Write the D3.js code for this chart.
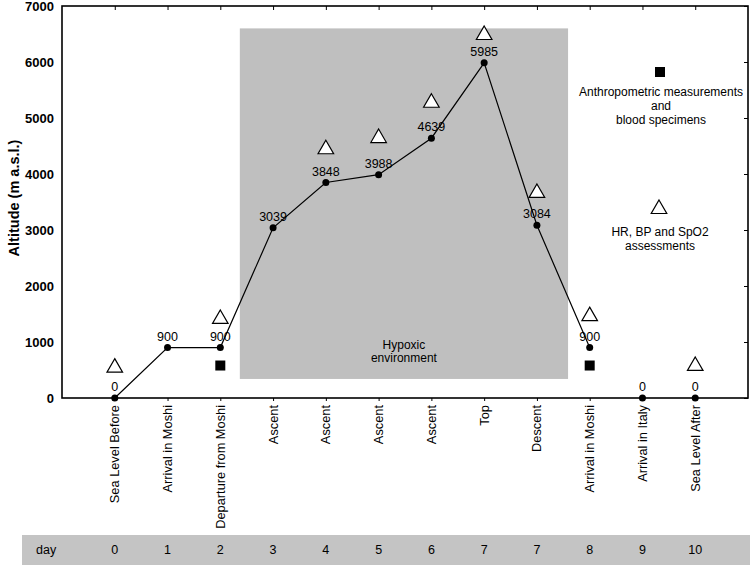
<!DOCTYPE html>
<html><head><meta charset="utf-8">
<script src="https://cdn.jsdelivr.net/npm/d3@7"></script>
<style>body{margin:0;background:#fff}svg{display:block}text{font-family:"Liberation Sans",Arial,sans-serif}</style>
</head><body><svg id="c" width="750" height="565"></svg>
<script>
const categories = ["Sea Level Before","Arrival in Moshi","Departure from Moshi","Ascent","Ascent","Ascent","Ascent","Top","Descent","Arrival in Moshi","Arrival in Italy","Sea Level After"];
const days = ["0","1","2","3","4","5","6","7","7","8","9","10"];
const altitude = [0,900,900,3039,3848,3988,4639,5985,3084,900,0,0];
const lineEnd = 9; // line connects points 0..9
const hrIndex = [0,2,4,5,6,7,8,9,11];
const hrValues = [560,1430,4460,4660,5290,6500,3680,1480,590];
const bloodIndex = [2,9];
const bloodValues = [580,580];
const yTicks = [0,1000,2000,3000,4000,5000,6000,7000];
const hypoxic = {x0:2.37, x1:8.59, y0:340, y1:6600};

const svg = d3.select("#c");
const L=62,R=748,T=6,B=398;
const x = d3.scalePoint().domain(d3.range(categories.length)).range([L,R]).padding(1);
const xf = v => x(0) + v*x.step();
const y = d3.scaleLinear().domain([0,7000]).range([B,T]);

// hypoxic area
svg.append("rect").attr("x",xf(hypoxic.x0)).attr("y",y(hypoxic.y1))
  .attr("width",xf(hypoxic.x1)-xf(hypoxic.x0)).attr("height",y(hypoxic.y0)-y(hypoxic.y1)).attr("fill","#bfbfbf");
const hx=(xf(hypoxic.x0)+xf(hypoxic.x1))/2;
svg.append("text").attr("x",hx).attr("y",349).attr("text-anchor","middle").attr("font-size",12).text("Hypoxic");
svg.append("text").attr("x",hx).attr("y",362).attr("text-anchor","middle").attr("font-size",12).text("environment");

// axes
const ga = svg.append("g");
ga.append("g").attr("transform",`translate(${L},0)`).call(d3.axisLeft(y).tickValues(yTicks).tickSize(0).tickPadding(8).tickFormat(d3.format("d")))
  .call(g=>{g.select(".domain").remove();g.selectAll("text").attr("dy","0.38em").attr("font-size",13).attr("font-weight","bold").attr("fill","#000").attr("font-family","Liberation Sans, Arial, sans-serif");});
ga.append("g").attr("transform",`translate(${R},0)`).call(d3.axisLeft(y).tickValues(yTicks).tickSize(4).tickFormat(""))
  .call(g=>{g.select(".domain").remove();g.selectAll("line").attr("stroke","#000");});
ga.append("g").attr("transform",`translate(0,${T})`).call(d3.axisBottom(x).tickSize(4).tickFormat(""))
  .call(g=>{g.select(".domain").remove();g.selectAll("line").attr("stroke","#000");});
ga.append("g").attr("transform",`translate(0,${B})`).call(d3.axisBottom(x).tickSize(3).tickFormat(""))
  .call(g=>{g.select(".domain").remove();g.selectAll("line").attr("stroke","#000");});
svg.append("rect").attr("x",L).attr("y",T).attr("width",R-L).attr("height",B-T).attr("fill","none").attr("stroke","#000").attr("stroke-width",1.6);

// category labels
svg.append("g").selectAll("text").data(categories).join("text")
  .attr("transform",(d,i)=>`translate(${x(i)+4.5},405) rotate(-90)`)
  .attr("text-anchor","end").attr("font-size",12.8).text(d=>d);

svg.append("text").attr("transform","translate(19,198) rotate(-90)").attr("text-anchor","middle")
  .attr("font-size",14.5).attr("font-weight","bold").text("Altitude (m a.s.l.)");

// line
const line = d3.line().x((d,i)=>x(i)).y(d=>y(d));
svg.append("path").datum(altitude.slice(0,lineEnd+1)).attr("d",line).attr("fill","none").attr("stroke","#000").attr("stroke-width",1.2);
svg.append("g").selectAll("circle").data(altitude).join("circle")
  .attr("cx",(d,i)=>x(i)).attr("cy",d=>y(d)).attr("r",3.5).attr("fill","#000");
svg.append("g").selectAll("text").data(altitude).join("text")
  .attr("x",(d,i)=>x(i)).attr("y",d=>y(d)-7).attr("text-anchor","middle").attr("font-size",12.5).text(d=>d);

// triangles
const tri = d3.symbol().type(d3.symbolTriangle).size(105);
svg.append("g").selectAll("path").data(hrValues).join("path")
  .attr("d",tri).attr("transform",(d,i)=>`translate(${x(hrIndex[i])},${y(d)+1})`)
  .attr("fill","#fff").attr("stroke","#000").attr("stroke-width",1.2);
// squares
svg.append("g").selectAll("rect").data(bloodValues).join("rect")
  .attr("x",(d,i)=>x(bloodIndex[i])-5).attr("y",d=>y(d)-5).attr("width",10).attr("height",10).attr("fill","#000");

// legend
svg.append("rect").attr("x",655).attr("y",67).attr("width",10).attr("height",10).attr("fill","#000");
[["Anthropometric measurements",96],["and",110],["blood specimens",124]].forEach(t=>
  svg.append("text").attr("x",661).attr("y",t[1]).attr("text-anchor","middle").attr("font-size",12).text(t[0]));
svg.append("path").attr("d",tri).attr("transform","translate(659,209)").attr("fill","#fff").attr("stroke","#000").attr("stroke-width",1.2);
[["HR, BP and SpO2",236],["assessments",250]].forEach(t=>
  svg.append("text").attr("x",660).attr("y",t[1]).attr("text-anchor","middle").attr("font-size",12).text(t[0]));

// day bar
svg.append("rect").attr("x",22).attr("y",535).attr("width",728).attr("height",30).attr("fill","#c4c4c4");
svg.append("text").attr("x",36).attr("y",554).attr("font-size",12.5).text("day");
svg.append("g").selectAll("text").data(days).join("text")
  .attr("x",(d,i)=>x(i)).attr("y",554).attr("text-anchor","middle").attr("font-size",12.5).text(d=>d);
</script></body></html>
